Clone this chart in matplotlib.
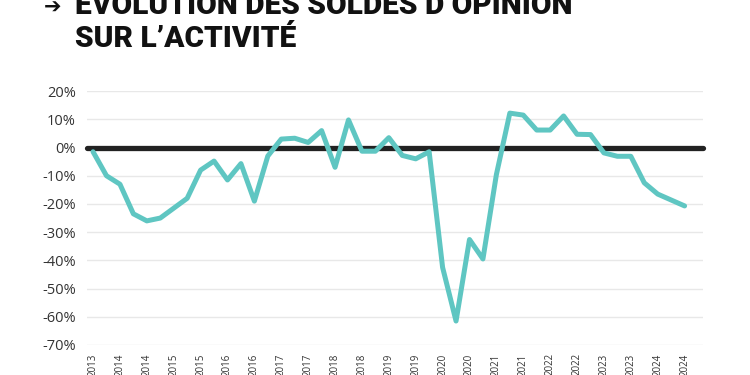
import matplotlib
matplotlib.use('Agg')
import matplotlib.pyplot as plt
import numpy as np

# soldes d'opinion trimestriels, T4 2013 -> T4 2024 (en %)
soldes = [-1.5, -10, -13, -23.5, -26, -25, -21.5, -18, -8, -4.8,
          -11.5, -5.7, -19, -3, 3, 3.3, 1.8, 6, -7, 9.8,
          -1.3, -1.3, 3.5, -2.8, -4, -1.5, -42.5, -61.5, -32.6, -39.5,
          -9.6, 12.2, 11.5, 6.2, 6.2, 11.2, 4.7, 4.6, -1.9, -3.1,
          -3.1, -12.5, -16.5, -18.6, -20.7]
annees = [2013] + [a for a in range(2014, 2025) for _ in range(2)]
yticks = list(range(20, -80, -10))

teal = '#5fc6c2'
txt = '#333333'

fig = plt.figure(figsize=(7.5, 3.75), dpi=100)
ax = fig.add_axes([0.116, 0.08, 0.821, 0.677])

x = np.arange(len(soldes))
ax.axhline(0, color='#222222', lw=3.8, solid_capstyle='round', clip_on=False, zorder=2)
ax.plot(x, soldes, color=teal, lw=3.6, solid_joinstyle='round',
        solid_capstyle='round', zorder=3, clip_on=False)

ax.set_xlim(-0.45, 45.35)
ax.set_ylim(-70, 20)
ax.set_yticks(yticks)
ax.set_yticklabels([f'{v}%' for v in yticks], fontfamily='Open Sans',
                   fontsize=10.5, color=txt)
ax.set_xticks(x[::2])
ax.set_xticklabels([str(a) for a in annees], rotation=90, fontfamily='Open Sans',
                   fontsize=7, color=txt, va='top')
ax.tick_params(axis='y', length=0, pad=8)
ax.tick_params(axis='x', length=0, pad=6)
ax.grid(axis='y', color='#e8e8e8', lw=1)
ax.set_axisbelow(True)
for s in ax.spines.values():
    s.set_visible(False)

# titre sur deux lignes, coupé en haut comme l'original
fig.text(0.058, 0.963, '➔', fontfamily=['DejaVu Sans'], fontweight='bold',
         fontsize=15, color='#111111', va='baseline')
tfam = ['Roboto', 'DejaVu Sans']
fig.text(0.1, 0.963, "ÉVOLUTION DES SOLDES D’OPINION", fontfamily=tfam,
         fontweight='black', fontsize=21.5, color='#111111', va='baseline')
fig.text(0.1, 0.875, "SUR L’ACTIVITÉ", fontfamily=tfam,
         fontweight='black', fontsize=21.5, color='#111111', va='baseline')

fig.savefig('out.png', dpi=100)
